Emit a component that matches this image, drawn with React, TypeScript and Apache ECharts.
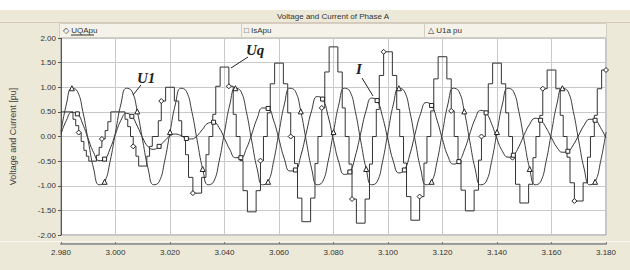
import React, { useEffect, useRef } from "react";
import * as echarts from "echarts";

const chartTitle = "Voltage and Current of Phase A";
const yAxisName = "Voltage and Current [pu]";
const legendNames = ["UQApu", "IsApu", "U1a pu"];
const legendIcons = ["◇", "□", "△"];

const xMin = 2.98;
const xMax = 3.18;
const xInterval = 0.02;
const yMin = -2;
const yMax = 2;
const yInterval = 0.5;

// sampled every 2 ms from 2.980 s
const sampleStart = 2.98;
const sampleStep = 0.002;

// U1a pu : grid voltage
const u1Values = [
  0.09, 0.66, 0.98, 0.92, 0.51, -0.09, -0.66, -0.98, -0.92, -0.51,
  0.09, 0.66, 0.98, 0.92, 0.51, -0.09, -0.66, -0.98, -0.92, -0.51,
  0.09, 0.66, 0.98, 0.92, 0.51, -0.09, -0.66, -0.98, -0.92, -0.51,
  0.09, 0.66, 0.98, 0.92, 0.51, -0.09, -0.66, -0.98, -0.92, -0.51,
  0.09, 0.66, 0.98, 0.92, 0.51, -0.09, -0.66, -0.98, -0.92, -0.51,
  0.09, 0.66, 0.98, 0.92, 0.51, -0.09, -0.66, -0.98, -0.92, -0.51,
  0.09, 0.66, 0.98, 0.92, 0.51, -0.09, -0.66, -0.98, -0.92, -0.51,
  0.09, 0.66, 0.98, 0.92, 0.51, -0.09, -0.66, -0.98, -0.92, -0.51,
  0.09, 0.66, 0.98, 0.92, 0.51, -0.09, -0.66, -0.98, -0.92, -0.51,
  0.09, 0.66, 0.98, 0.92, 0.51, -0.09, -0.66, -0.98, -0.92, -0.51,
  0.09,
];

// IsApu : current
const isValues = [
  0.05, 0.33, 0.49, 0.46, 0.25, -0.05, -0.33, -0.49, -0.46, -0.25,
  0.05, 0.33, 0.47, 0.41, 0.21, -0.03, -0.21, -0.26, -0.2, -0.09,
  0.01, 0.05, 0.02, -0.04, -0.05, 0.02, 0.15, 0.27, 0.29, 0.18,
  -0.04, -0.27, -0.43, -0.43, -0.25, 0.05, 0.37, 0.58, 0.57, 0.33,
  -0.06, -0.46, -0.7, -0.68, -0.39, 0.07, 0.53, 0.81, 0.76, 0.42,
  -0.08, -0.53, -0.77, -0.72, -0.4, 0.07, 0.53, 0.78, 0.73, 0.4,
  -0.07, -0.51, -0.74, -0.68, -0.37, 0.07, 0.47, 0.69, 0.63, 0.33,
  -0.06, -0.4, -0.56, -0.51, -0.28, 0.05, 0.36, 0.53, 0.48, 0.26,
  -0.05, -0.3, -0.42, -0.38, -0.21, 0.04, 0.25, 0.37, 0.33, 0.18,
  -0.03, -0.22, -0.32, -0.3, -0.17, 0.03, 0.23, 0.35, 0.33, 0.18,
  -0.03,
];

// UQApu : inverter staircase voltage, [time, level] where each level starts
const uqSteps = [
  [2.98, 0.5], [2.9844, 0.35], [2.9854, 0.22], [2.9865, 0.08], [2.9874, -0.1],
  [2.9884, -0.28], [2.9893, -0.4], [2.9902, -0.5], [2.993, -0.38], [2.994, -0.22],
  [2.995, -0.05], [2.9962, 0.12], [2.9972, 0.3], [2.9983, 0.5], [3.0035, 0.35],
  [3.0045, 0.2], [3.0055, 0.0], [3.0065, -0.2], [3.0075, -0.4], [3.0085, -0.6],
  [3.0115, -0.4], [3.0125, -0.2], [3.0135, 0],
  [3.0157, 0.32], [3.0168, 0.72], [3.0184, 1.0], [3.0216, 0.72], [3.0232, 0.32], [3.0243, 0],
  [3.0257, -0.37], [3.0268, -0.83], [3.0284, -1.15], [3.0316, -0.83], [3.0332, -0.37], [3.0343, 0],
  [3.0357, 0.45], [3.0368, 1.02], [3.0384, 1.41], [3.0416, 1.02], [3.0432, 0.45], [3.0443, 0],
  [3.0457, -0.49], [3.0468, -1.1], [3.0484, -1.53], [3.0516, -1.1], [3.0532, -0.49], [3.0543, 0],
  [3.0557, 0.48], [3.0568, 1.07], [3.0584, 1.49], [3.0616, 1.07], [3.0632, 0.48], [3.0643, 0],
  [3.0657, -0.55], [3.0668, -1.25], [3.0684, -1.73], [3.0716, -1.25], [3.0732, -0.55], [3.0743, 0],
  [3.0757, 0.58], [3.0768, 1.31], [3.0784, 1.82], [3.0816, 1.31], [3.0832, 0.58], [3.0843, 0],
  [3.0857, -0.56], [3.0868, -1.27], [3.0884, -1.76], [3.0916, -1.27], [3.0932, -0.56], [3.0943, 0],
  [3.0957, 0.55], [3.0968, 1.24], [3.0984, 1.72], [3.1016, 1.24], [3.1032, 0.55], [3.1043, 0],
  [3.1057, -0.54], [3.1068, -1.22], [3.1084, -1.7], [3.1116, -1.22], [3.1132, -0.54], [3.1143, 0],
  [3.1157, 0.52], [3.1168, 1.17], [3.1184, 1.62], [3.1216, 1.17], [3.1232, 0.52], [3.1243, 0],
  [3.1257, -0.48], [3.1268, -1.09], [3.1284, -1.51], [3.1316, -1.09], [3.1332, -0.48], [3.1343, 0],
  [3.1357, 0.48], [3.1368, 1.07], [3.1384, 1.49], [3.1416, 1.07], [3.1432, 0.48], [3.1443, 0],
  [3.1457, -0.43], [3.1468, -0.97], [3.1484, -1.35], [3.1516, -0.97], [3.1532, -0.43], [3.1543, 0],
  [3.1557, 0.43], [3.1568, 0.97], [3.1584, 1.35], [3.1616, 0.97], [3.1632, 0.43], [3.1643, 0],
  [3.1657, -0.42], [3.1668, -0.94], [3.1684, -1.31], [3.1716, -0.94], [3.1732, -0.42], [3.1743, 0],
  [3.1757, 0.43], [3.1768, 0.97], [3.1784, 1.35], [3.18, 1.35],
];

const annotations = ["U1", "Uq", "I"];

const FONT = '"Liberation Sans", Arial, sans-serif';
const LINE = "#333333";

export default function App() {
  const ref = useRef<HTMLDivElement>(null);

  useEffect(() => {
    if (!ref.current) return;
    const chart = echarts.init(ref.current, undefined, { renderer: "svg" });

    const sampled = (vals: number[], every: number, offset: number, sym: string) =>
      vals.map((v, i) => ({
        value: [sampleStart + i * sampleStep, v],
        symbol: i % every === offset ? sym : "none",
      }));

    const annFont = 'italic bold 15px "Liberation Serif", "Times New Roman", serif';
    const markerStyle = { color: "#ffffff", borderColor: "#222", borderWidth: 1 };

    const option: any = {
      animation: false,
      backgroundColor: "#ece9d8",
      textStyle: { fontFamily: FONT },
      grid: {
        left: 59,
        top: 38,
        width: 547,
        height: 197,
        show: true,
        backgroundColor: "#ffffff",
        borderColor: "#8a8a8a",
        borderWidth: 1,
      },
      xAxis: {
        type: "value",
        min: xMin,
        max: xMax,
        interval: xInterval,
        offset: 9,
        axisLine: { show: true, onZero: false, lineStyle: { color: "#9c9c9c", width: 2 } },
        axisTick: { show: true, inside: true, length: 2, lineStyle: { color: "#777" } },
        axisLabel: {
          fontSize: 8,
          color: "#333",
          margin: 4,
          fontFamily: FONT,
          formatter: (v: number) => v.toFixed(3),
        },
        splitLine: { show: true, lineStyle: { color: "#c9c9c9", width: 1 } },
      },
      yAxis: {
        type: "value",
        min: yMin,
        max: yMax,
        interval: yInterval,
        name: yAxisName,
        nameLocation: "middle",
        nameRotate: 90,
        nameGap: 44,
        nameTextStyle: { fontSize: 9, color: "#444", fontFamily: FONT },
        axisLine: { show: true, onZero: false, lineStyle: { color: "#555" } },
        axisTick: { show: true, length: 3, lineStyle: { color: "#555" } },
        axisLabel: {
          fontSize: 8,
          color: "#333",
          margin: 5,
          fontFamily: FONT,
          formatter: (v: number) => v.toFixed(2),
        },
        splitLine: { show: true, lineStyle: { color: "#c9c9c9", width: 1 } },
      },
      series: [
        {
          name: legendNames[0],
          type: "line",
          step: "end",
          data: uqSteps.map((p, i) => ({ value: p, symbol: i % 7 === 3 ? "diamond" : "none" })),
          symbolSize: 5,
          showSymbol: true,
          lineStyle: { color: LINE, width: 1 },
          itemStyle: markerStyle,
          z: 3,
        },
        {
          name: legendNames[1],
          type: "line",
          smooth: 0.5,
          data: sampled(isValues, 5, 3, "rect"),
          symbolSize: 4,
          showSymbol: true,
          lineStyle: { color: LINE, width: 1 },
          itemStyle: markerStyle,
          z: 4,
        },
        {
          name: legendNames[2],
          type: "line",
          smooth: 0.5,
          data: sampled(u1Values, 6, 2, "triangle"),
          symbolSize: 5,
          showSymbol: true,
          lineStyle: { color: "#3c3c3c", width: 1 },
          itemStyle: markerStyle,
          z: 5,
        },
      ],
      graphic: [
        { type: "rect", z: 1, shape: { x: 0, y: 0, width: 630, height: 10 }, style: { fill: "#ffffff" } },
        { type: "line", z: 1, shape: { x1: 0, y1: 22.5, x2: 630, y2: 22.5 }, style: { stroke: "#d8c6bf", lineWidth: 1 } },
        {
          type: "rect",
          z: 1,
          shape: { x: 59.5, y: 23.5, width: 547, height: 14 },
          style: { fill: "#f4f2e9", stroke: "#d2cec0", lineWidth: 1 },
        },
        { type: "line", z: 2, shape: { x1: 241.5, y1: 24, x2: 241.5, y2: 37 }, style: { stroke: "#d2cec0", lineWidth: 1 } },
        { type: "line", z: 2, shape: { x1: 424.5, y1: 24, x2: 424.5, y2: 37 }, style: { stroke: "#d2cec0", lineWidth: 1 } },
        { type: "line", z: 1, shape: { x1: 0, y1: 241.5, x2: 630, y2: 241.5 }, style: { stroke: "#faf7f2", lineWidth: 1 } },
        {
          type: "text",
          z: 10,
          x: 333,
          y: 16.5,
          style: { text: chartTitle, font: `8px ${FONT}`, fill: "#333", textAlign: "center", textVerticalAlign: "middle" },
        },
        {
          type: "text",
          z: 10,
          x: 63,
          y: 30.5,
          style: { text: `${legendIcons[0]} ${legendNames[0]}`, font: `8px ${FONT}`, fill: "#333", textAlign: "left", textVerticalAlign: "middle" },
        },
        { type: "line", z: 10, shape: { x1: 71, y1: 35, x2: 94, y2: 35 }, style: { stroke: "#333", lineWidth: 1 } },
        {
          type: "text",
          z: 10,
          x: 244,
          y: 30.5,
          style: { text: `${legendIcons[1]} ${legendNames[1]}`, font: `8px ${FONT}`, fill: "#333", textAlign: "left", textVerticalAlign: "middle" },
        },
        {
          type: "text",
          z: 10,
          x: 428,
          y: 30.5,
          style: { text: `${legendIcons[2]} ${legendNames[2]}`, font: `8px ${FONT}`, fill: "#333", textAlign: "left", textVerticalAlign: "middle" },
        },
        // annotations
        {
          type: "text",
          z: 100,
          x: 137,
          y: 70,
          style: { text: annotations[0], font: annFont, fill: "#1e1e1e", textAlign: "left", textVerticalAlign: "top" },
        },
        { type: "line", z: 100, shape: { x1: 141, y1: 85, x2: 133, y2: 95 }, style: { stroke: "#222", lineWidth: 1 } },
        {
          type: "text",
          z: 100,
          x: 246,
          y: 42,
          style: { text: annotations[1], font: annFont, fill: "#1e1e1e", textAlign: "left", textVerticalAlign: "top" },
        },
        { type: "line", z: 100, shape: { x1: 248, y1: 57, x2: 231, y2: 68 }, style: { stroke: "#222", lineWidth: 1 } },
        {
          type: "text",
          z: 100,
          x: 356,
          y: 61,
          style: { text: annotations[2], font: annFont, fill: "#1e1e1e", textAlign: "left", textVerticalAlign: "top" },
        },
        { type: "line", z: 100, shape: { x1: 362, y1: 78, x2: 373, y2: 96 }, style: { stroke: "#222", lineWidth: 1 } },
      ],
    };

    chart.setOption(option);
    return () => chart.dispose();
  }, []);

  return (
    <div
      ref={ref}
      style={{ position: "absolute", left: 0, top: 0, width: 630, height: 270 }}
    />
  );
}
